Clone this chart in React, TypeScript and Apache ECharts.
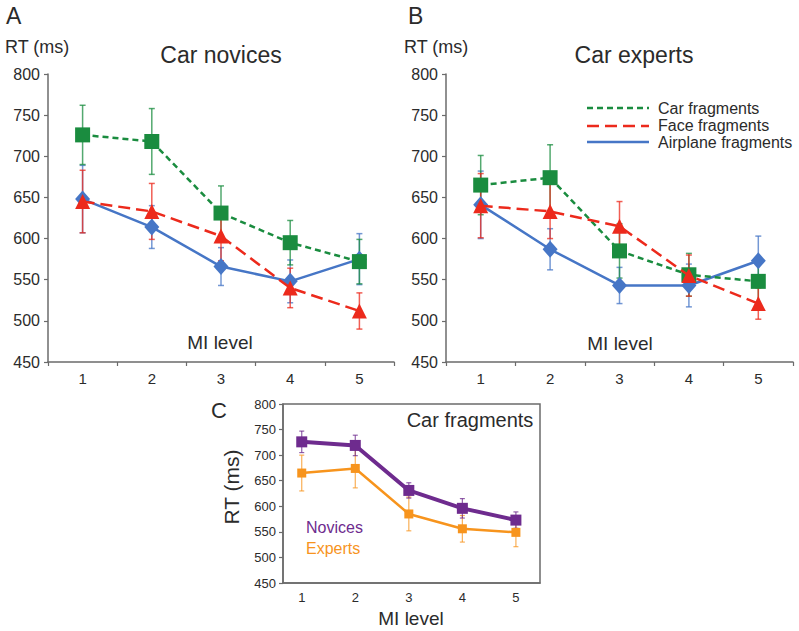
import React, { useEffect, useRef } from "react";
import * as echarts from "echarts";

const levels = ["1", "2", "3", "4", "5"];
const yTicks = [450, 500, 550, 600, 650, 700, 750, 800];

// Panel A: car novices
const novCar = [726, 718, 631, 595, 572];
const novCarErr = [36, 40, 33, 27, 27];
const novFace = [645, 633, 603, 540, 512];
const novFaceErr = [38, 34, 30, 24, 22];
const novPlane = [648, 614, 566, 548, 575];
const novPlaneErr = [41, 26, 23, 26, 31];

// Panel B: car experts
const expCar = [665, 674, 585, 556, 548];
const expCarErr = [36, 40, 33, 26, 28];
const expFace = [640, 633, 615, 555, 521];
const expFaceErr = [39, 33, 30, 25, 19];
const expPlane = [641, 587, 543, 543, 573];
const expPlaneErr = [41, 25, 22, 26, 30];

// Panel C: car fragments
const cNovices = [726, 719, 631, 596, 573];
const cNovicesErr = [21, 20, 15, 19, 16];
const cExperts = [665, 674, 585, 556, 549];
const cExpertsErr = [35, 38, 33, 26, 28];

const FONT = "Liberation Sans, Arial, Helvetica, sans-serif";
const TXT = "#2b2b2b";
const AX = "#6b6b6b";
const GREEN = "#1a8c3f";
const RED = "#ec2a1c";
const BLUE = "#4676c6";
const PURPLE = "#6e2b8e";
const ORANGE = "#f7941d";

function errSeries(
  vals: number[],
  errs: number[],
  color: string,
  axis: number,
  xNumeric: boolean,
  cap: number,
  width: number
) {
  return {
    type: "custom",
    xAxisIndex: axis,
    yAxisIndex: axis,
    silent: true,
    z: 1,
    data: vals.map((v, i) => [xNumeric ? i + 1 : i, v - errs[i], v + errs[i]]),
    encode: { x: 0, y: [1, 2] },
    renderItem: (params: any, api: any) => {
      const x = api.value(0);
      const lo = api.coord([x, api.value(1)]);
      const hi = api.coord([x, api.value(2)]);
      const st = { stroke: color, lineWidth: width, opacity: 0.75 };
      return {
        type: "group",
        children: [
          { type: "line", shape: { x1: lo[0], y1: lo[1], x2: hi[0], y2: hi[1] }, style: st },
          { type: "line", shape: { x1: lo[0] - cap, y1: lo[1], x2: lo[0] + cap, y2: lo[1] }, style: st },
          { type: "line", shape: { x1: hi[0] - cap, y1: hi[1], x2: hi[0] + cap, y2: hi[1] }, style: st },
        ],
      };
    },
  };
}

function lineSeries(
  name: string,
  vals: number[],
  color: string,
  axis: number,
  dash: any,
  symbol: string,
  size: any,
  width: number,
  z: number,
  xNumeric: boolean
) {
  return {
    name,
    type: "line",
    xAxisIndex: axis,
    yAxisIndex: axis,
    z,
    data: vals.map((v, i) => (xNumeric ? [i + 1, v] : v)),
    symbol,
    symbolSize: size,
    showSymbol: true,
    itemStyle: { color, opacity: 1 },
    lineStyle: { color, width, type: dash },
  };
}

function yAxisDef(grid: number, fontSize: number, margin: number) {
  return {
    type: "value",
    gridIndex: grid,
    min: 450,
    max: 800,
    interval: 50,
    splitLine: { show: false },
    axisLine: { show: true, lineStyle: { color: AX, width: 1.5 } },
    axisTick: { show: true, length: 4, lineStyle: { color: AX, width: 1.2 } },
    axisLabel: { fontSize, color: TXT, fontFamily: FONT, margin },
  };
}

function catXAxis(grid: number) {
  return {
    type: "category",
    gridIndex: grid,
    data: levels,
    boundaryGap: true,
    axisLine: { show: true, lineStyle: { color: AX, width: 1.5 } },
    axisTick: { show: true, length: 4, inside: false, lineStyle: { color: AX, width: 1.2 } },
    axisLabel: { fontSize: 15, color: TXT, fontFamily: FONT, margin: 9 },
    splitLine: { show: false },
  };
}

function txt(text: string, x: number, y: number, size: number, align = "left", color = TXT, extra: any = {}) {
  return {
    type: "text",
    x,
    y,
    silent: true,
    z: 50,
    ...extra,
    style: {
      text,
      fill: color,
      font: `${size}px ${FONT}`,
      textAlign: align,
      textVerticalAlign: "middle",
      verticalAlign: "middle",
    },
  };
}

function legLine(y: number, color: string, dash: any) {
  return {
    type: "line",
    silent: true,
    z: 50,
    shape: { x1: 587, y1: y, x2: 649, y2: y },
    style: { stroke: color, lineWidth: 2.5, lineDash: dash },
  };
}

export default function App() {
  const ref = useRef<HTMLDivElement>(null);
  useEffect(() => {
    document.body.style.margin = "0";
    const chart = echarts.init(ref.current!, null, { renderer: "svg" });
    const option: any = {
      animation: false,
      backgroundColor: "#ffffff",
      grid: [
        { left: 48, top: 74, width: 346, height: 288 },
        { left: 446, top: 74, width: 347, height: 288 },
        { left: 283, top: 404, width: 257, height: 179, show: true, borderColor: AX, borderWidth: 1.5 },
      ],
      xAxis: [
        catXAxis(0),
        catXAxis(1),
        {
          type: "value",
          gridIndex: 2,
          min: 0.65,
          max: 5.45,
          splitLine: { show: false },
          axisLine: { show: true, lineStyle: { color: AX, width: 1.5 } },
          axisTick: { show: false },
          axisLabel: {
            fontSize: 13,
            color: TXT,
            fontFamily: FONT,
            margin: 8,
            customValues: [1, 2, 3, 4, 5],
            formatter: (v: number) => String(Math.round(v)),
          },
        },
      ],
      yAxis: [yAxisDef(0, 16, 8), yAxisDef(1, 16, 8), yAxisDef(2, 13, 7)],
      series: [
        // Panel A
        errSeries(novPlane, novPlaneErr, BLUE, 0, false, 3, 1.5),
        errSeries(novCar, novCarErr, GREEN, 0, false, 3, 1.5),
        errSeries(novFace, novFaceErr, RED, 0, false, 3, 1.5),
        lineSeries("Airplane fragments", novPlane, BLUE, 0, "solid", "diamond", [15, 17], 2.5, 3, false),
        lineSeries("Car fragments", novCar, GREEN, 0, [6, 4], "rect", 15, 2.5, 4, false),
        lineSeries("Face fragments", novFace, RED, 0, [12, 6], "triangle", 15, 2.5, 5, false),
        // Panel B
        errSeries(expPlane, expPlaneErr, BLUE, 1, false, 3, 1.5),
        errSeries(expCar, expCarErr, GREEN, 1, false, 3, 1.5),
        errSeries(expFace, expFaceErr, RED, 1, false, 3, 1.5),
        lineSeries("Airplane fragments", expPlane, BLUE, 1, "solid", "diamond", [15, 17], 2.5, 3, false),
        lineSeries("Car fragments", expCar, GREEN, 1, [6, 4], "rect", 15, 2.5, 4, false),
        lineSeries("Face fragments", expFace, RED, 1, [12, 6], "triangle", 15, 2.5, 5, false),
        // Panel C
        errSeries(cExperts, cExpertsErr, ORANGE, 2, true, 2.5, 1.2),
        errSeries(cNovices, cNovicesErr, PURPLE, 2, true, 2.5, 1.2),
        lineSeries("Experts", cExperts, ORANGE, 2, "solid", "rect", 9, 2.5, 3, true),
        lineSeries("Novices", cNovices, PURPLE, 2, "solid", "rect", 11, 4, 4, true),
      ],
      graphic: [
        txt("A", 6, 16, 23),
        txt("RT (ms)", 5, 47, 18),
        txt("Car novices", 221, 55, 23, "center"),
        txt("MI level", 220, 342, 19, "center"),
        txt("B", 408, 16, 23),
        txt("RT (ms)", 404, 47, 18),
        txt("Car experts", 634, 55, 23, "center"),
        txt("MI level", 620, 343, 19, "center"),
        legLine(108, GREEN, [6, 4]),
        legLine(126, RED, [12, 6]),
        legLine(142, BLUE, null),
        txt("Car fragments", 658, 108, 16),
        txt("Face fragments", 658, 125, 16),
        txt("Airplane fragments", 658, 142, 16),
        txt("C", 211, 410, 22),
        txt("RT (ms)", 231, 487, 21, "center", TXT, { rotation: Math.PI / 2 }),
        txt("Car fragments", 470, 420, 20, "center"),
        txt("Novices", 306, 527, 16, "left", PURPLE),
        txt("Experts", 306, 548, 16, "left", ORANGE),
        txt("MI level", 411, 618, 19, "center"),
      ],
    };
    chart.setOption(option);
    return () => chart.dispose();
  }, []);
  return <div ref={ref} style={{ width: 799, height: 631 }} />;
}
